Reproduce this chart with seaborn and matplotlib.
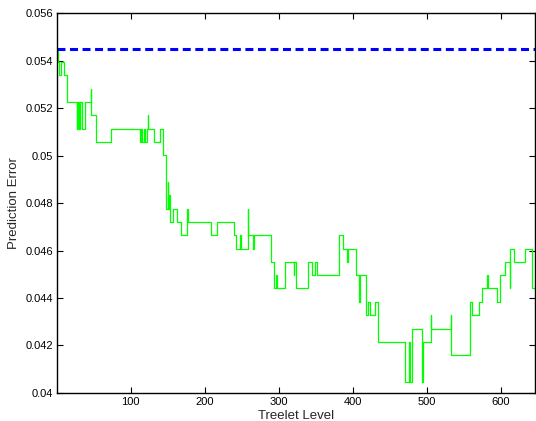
import matplotlib
matplotlib.use("Agg")
import matplotlib.pyplot as plt
import seaborn as sns
import pandas as pd

# treelet level where each constant stretch of the error curve starts
level_start = [1, 2, 3, 6, 10, 14, 27, 28, 29, 30, 31, 32, 34, 38, 46, 47, 53, 73,
               112, 114, 115, 118, 119, 122, 123, 124, 132, 140, 144, 148, 150, 151,
               152, 153, 157, 162, 168, 176, 177, 208, 216, 239, 242, 248, 249, 258,
               259, 265, 266, 290, 293, 296, 297, 308, 320, 321, 323, 340, 345, 349,
               351, 381, 387, 392, 393, 404, 409, 410, 418, 420, 423, 430, 434, 470,
               476, 477, 480, 494, 495, 505, 506, 532, 533, 558, 561, 571, 575, 581,
               582, 595, 599, 606, 612, 613, 618, 632, 642, 646]

# prediction error on each stretch
pred_error = [0.05452, 0.05396, 0.05339, 0.05396, 0.05339, 0.05227, 0.05114, 0.05227,
              0.05114, 0.05227, 0.05114, 0.05227, 0.05114, 0.05227, 0.05283, 0.05171,
              0.05058, 0.05114,
              0.05058, 0.05114, 0.05058, 0.05114, 0.05058, 0.05114, 0.05171, 0.05114,
              0.05058, 0.05114, 0.05002, 0.04777, 0.04890, 0.04777,
              0.04833, 0.04721, 0.04777, 0.04721, 0.04665, 0.04777, 0.04721, 0.04665,
              0.04721, 0.04665, 0.04608, 0.04665, 0.04608, 0.04777,
              0.04665, 0.04608, 0.04665, 0.04552, 0.04440, 0.04496, 0.04440, 0.04552,
              0.04496, 0.04552, 0.04440, 0.04552, 0.04496, 0.04552,
              0.04496, 0.04665, 0.04608, 0.04552, 0.04608, 0.04496, 0.04383, 0.04496,
              0.04327, 0.04383, 0.04327, 0.04383, 0.04215, 0.04046,
              0.04215, 0.04046, 0.04271, 0.04046, 0.04215, 0.04327, 0.04271, 0.04327,
              0.04158, 0.04383, 0.04327, 0.04383, 0.04440, 0.04496,
              0.04440, 0.04383, 0.04496, 0.04552, 0.04440, 0.04608, 0.04552, 0.04608,
              0.04440, 0.04440]

baseline_error = 0.05452

x_ticks = [100, 200, 300, 400, 500, 600]
y_ticks = [0.04, 0.042, 0.044, 0.046, 0.048, 0.05, 0.052, 0.054, 0.056]
y_tick_labels = ["0.04", "0.042", "0.044", "0.046", "0.048", "0.05", "0.052", "0.054", "0.056"]

df = pd.DataFrame({"level": level_start, "error": pred_error})

sns.set_theme(style="ticks")
plt.rcParams["font.family"] = ["Liberation Sans", "DejaVu Sans"]

fig = plt.figure(figsize=(5.36, 4.21), dpi=100)
ax = fig.add_axes([0.107, 0.067, 0.891, 0.901])

sns.lineplot(data=df, x="level", y="error", drawstyle="steps-post", color=(0, 1, 0),
             lw=0.9, estimator=None, ax=ax)
ax.axhline(baseline_error, color=(0, 0, 1), lw=2.2, dashes=(2.6, 1.5))

ax.set_xlim(1, 646)
ax.set_ylim(0.04, 0.056)
ax.set_xticks(x_ticks)
ax.set_xticklabels([str(t) for t in x_ticks])
ax.set_yticks(y_ticks)
ax.set_yticklabels(y_tick_labels)

ax.tick_params(direction="in", top=True, right=True, length=4, width=0.8,
               labelsize=8, pad=3, colors="black")
for s in ax.spines.values():
    s.set_visible(True)
    s.set_linewidth(1.0)
    s.set_color("black")

ax.set_xlabel("Treelet Level", fontsize=9.5, labelpad=2)
ax.set_ylabel("Prediction Error", fontsize=9.5, labelpad=4)

fig.savefig("out.png", dpi=100)
